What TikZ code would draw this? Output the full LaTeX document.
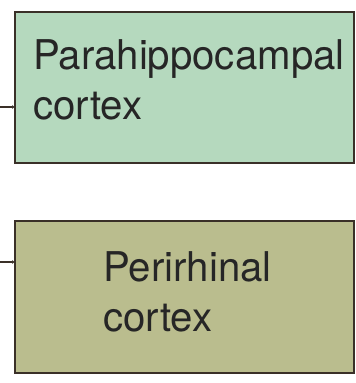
\documentclass[tikz,border=0pt]{standalone}
\usepackage{fontspec}
\setmainfont{TeX Gyre Heros}
\usetikzlibrary{arrows.meta,calc}
\definecolor{parafill}{RGB}{181,217,190}
\definecolor{perifill}{RGB}{186,189,142}
\definecolor{edgecol}{RGB}{58,48,40}
\begin{document}
\begin{tikzpicture}[x=1pt,y=1pt,
  region/.style={draw=edgecol,line width=2pt,minimum width=339pt,inner sep=0pt,outer sep=0pt},
  label/.style={anchor=base west,inner sep=0pt,align=left,font=\fontsize{41}{50}\selectfont,text=black!85,xscale=0.98},
  feed/.style={draw=edgecol,line width=2pt,-{Latex[length=3pt,width=4pt]}}]
\useasboundingbox (0,0) rectangle (356,383);
\node[region,fill=parafill,minimum height=151pt] (para) at (184.5,295.5) {};
\node[region,fill=perifill,minimum height=152pt] (peri) at (184.5,86) {};
\node[label] (paratext) at (33,263) {Parahippocampal\\cortex};
\node[label] (peritext) at (103,51) {Perirhinal\\cortex};
\coordinate (inpara) at (0,276);
\coordinate (inperi) at (0,121);
\draw[feed] (inpara) -- (inpara -| para.west);
\draw[feed] (inperi) -- (inperi -| peri.west);
\end{tikzpicture}
\end{document}
